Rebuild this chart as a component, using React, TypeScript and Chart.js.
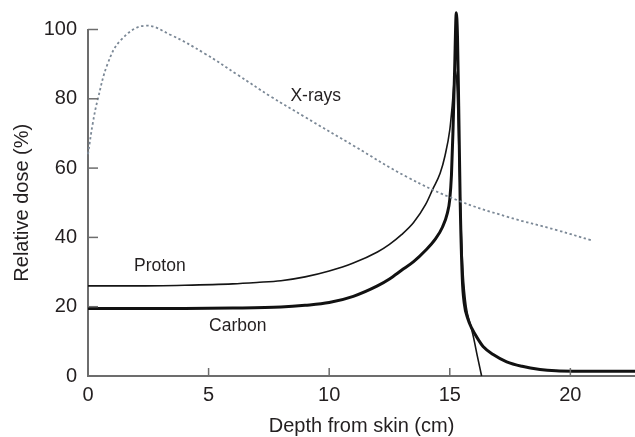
import React, { useEffect, useRef } from "react";
import { Chart, registerables } from "chart.js";

Chart.register(...registerables);

const xTickValues = [0, 5, 10, 15, 20];
const yTickValues = [0, 20, 40, 60, 80, 100];

const protonDepth = [0, 2, 4, 6, 7, 8, 9, 10, 11, 12, 12.5, 13, 13.5, 14, 14.3, 14.6, 14.8, 15.0, 15.1, 15.18, 15.24, 15.31, 15.38, 15.46, 15.55, 15.68, 15.85, 15.98, 16.15, 16.32];
const protonDose = [26, 26, 26.2, 26.6, 27, 27.5, 28.6, 30.3, 32.6, 35.8, 38, 40.8, 44.3, 49.5, 54, 58.5, 63.5, 71, 78, 85, 88, 82, 65, 45, 30, 20, 15, 11.3, 5.5, 0];

const carbonDepth = [0, 4, 6, 8, 9, 10, 11, 12, 12.5, 13, 13.5, 14, 14.4, 14.7, 14.9, 15.0, 15.07, 15.13, 15.2, 15.27, 15.32, 15.37, 15.43, 15.52, 15.6, 15.75, 15.91, 16.2, 16.38, 16.8, 17.36, 18.0, 18.74, 19.4, 20.1, 22.7];
const carbonDose = [19.5, 19.5, 19.6, 19.9, 20.4, 21.2, 23, 26, 28, 30.5, 33, 36.3, 39.5, 43, 47, 51, 58, 70, 88, 104.8, 98, 78, 51, 28, 21, 16.5, 13.8, 10.3, 8.5, 6.2, 4.1, 2.8, 1.9, 1.5, 1.4, 1.4];

const xrayDepth = [0, 0.2, 0.4, 0.82, 1.37, 2.34, 3.44, 4.83, 6.21, 7.59, 8.98, 11.05, 13.21, 15.29, 17.36, 19.44, 20.89];
const xrayDose = [64, 73, 79.7, 90.2, 97, 101.1, 98.4, 93.1, 86.9, 80.6, 74.8, 66.3, 57.5, 50.8, 46, 42.1, 39.1];

const labelTexts = ["Proton", "Carbon", "X-rays"];
const labelDepth = [2.98, 6.21, 9.44];
const labelDose = [31.7, 14.4, 80.8];

const FONT_FAMILY = '"Liberation Sans", Arial, sans-serif';
const TEXT_COLOR = "#231f20";
const AXIS_COLOR = "#6d6d6d";

const toPoints = (xs: number[], ys: number[]) => xs.map((x, i) => ({ x, y: ys[i] }));

const inwardTicks = {
  id: "inwardTicks",
  afterDraw(chart: any) {
    const { ctx, chartArea, scales } = chart;
    ctx.save();
    ctx.strokeStyle = AXIS_COLOR;
    ctx.lineWidth = 1.5;
    const xs = scales.x;
    xs.ticks.forEach((t: any) => {
      const px = xs.getPixelForValue(t.value);
      ctx.beginPath();
      ctx.moveTo(px, chartArea.bottom);
      ctx.lineTo(px, chartArea.bottom - 8);
      ctx.stroke();
    });
    const ys = scales.y;
    ys.ticks.forEach((t: any) => {
      const py = ys.getPixelForValue(t.value);
      ctx.beginPath();
      ctx.moveTo(chartArea.left, py);
      ctx.lineTo(chartArea.left + 10, py);
      ctx.stroke();
    });
    ctx.restore();
  },
};

const seriesLabels = {
  id: "seriesLabels",
  afterDatasetsDraw(chart: any) {
    const { ctx, scales } = chart;
    ctx.save();
    ctx.fillStyle = TEXT_COLOR;
    ctx.font = `17.5px ${FONT_FAMILY}`;
    ctx.textAlign = "center";
    ctx.textBaseline = "middle";
    labelTexts.forEach((txt, i) => {
      ctx.fillText(txt, scales.x.getPixelForValue(labelDepth[i]), scales.y.getPixelForValue(labelDose[i]));
    });
    ctx.restore();
  },
};

export default function App() {
  const canvasRef = useRef<HTMLCanvasElement | null>(null);

  useEffect(() => {
    document.body.style.margin = "0";
    const canvas = canvasRef.current;
    if (!canvas) return;
    const tickFont = { family: FONT_FAMILY, size: 20 };
    const titleFont = { family: FONT_FAMILY, size: 20, lineHeight: 1 };
    const chart = new Chart(canvas, {
      type: "line",
      data: {
        datasets: [
          {
            label: "X-rays",
            data: toPoints(xrayDepth, xrayDose),
            borderColor: "#7b8896",
            borderWidth: 1.8,
            borderDash: [2.4, 2.6],
            pointRadius: 0,
            tension: 0.4,
            clip: false,
          },
          {
            label: "Proton",
            data: toPoints(protonDepth, protonDose),
            borderColor: "#151515",
            borderWidth: 1.6,
            pointRadius: 0,
            cubicInterpolationMode: "monotone",
            clip: false,
          },
          {
            label: "Carbon",
            data: toPoints(carbonDepth, carbonDose),
            borderColor: "#111111",
            borderWidth: 3,
            pointRadius: 0,
            cubicInterpolationMode: "monotone",
            clip: false,
          },
        ],
      },
      options: {
        animation: false,
        responsive: true,
        maintainAspectRatio: false,
        devicePixelRatio: 1,
        layout: { padding: { top: 29.5, right: 0, left: 0, bottom: 0 } },
        plugins: { legend: { display: false }, tooltip: { enabled: false } },
        scales: {
          x: {
            type: "linear",
            min: 0,
            max: 22.68,
            afterBuildTicks: (s: any) => {
              s.ticks = xTickValues.map((v) => ({ value: v }));
            },
            afterFit: (s: any) => {
              s.height = 61;
            },
            ticks: { font: tickFont, color: TEXT_COLOR, padding: 7, maxRotation: 0, autoSkip: false },
            grid: { display: false, drawTicks: false },
            border: { display: true, color: AXIS_COLOR, width: 2 },
            title: {
              display: true,
              text: "Depth from skin (cm)",
              font: titleFont,
              color: TEXT_COLOR,
              padding: { top: 0, bottom: 1 },
            },
          },
          y: {
            type: "linear",
            min: 0,
            max: 100,
            afterBuildTicks: (s: any) => {
              s.ticks = yTickValues.map((v) => ({ value: v }));
            },
            afterFit: (s: any) => {
              s.width = 88;
            },
            ticks: { font: tickFont, color: TEXT_COLOR, padding: 11, autoSkip: false },
            grid: { display: false, drawTicks: false },
            border: { display: true, color: AXIS_COLOR, width: 2 },
            title: {
              display: true,
              text: "Relative dose (%)",
              font: titleFont,
              color: TEXT_COLOR,
              padding: { top: 12, bottom: 0 },
            },
          },
        },
      },
      plugins: [inwardTicks, seriesLabels],
    } as any);
    return () => chart.destroy();
  }, []);

  return (
    <div style={{ width: 635, height: 437, position: "relative" }}>
      <canvas ref={canvasRef} />
    </div>
  );
}
